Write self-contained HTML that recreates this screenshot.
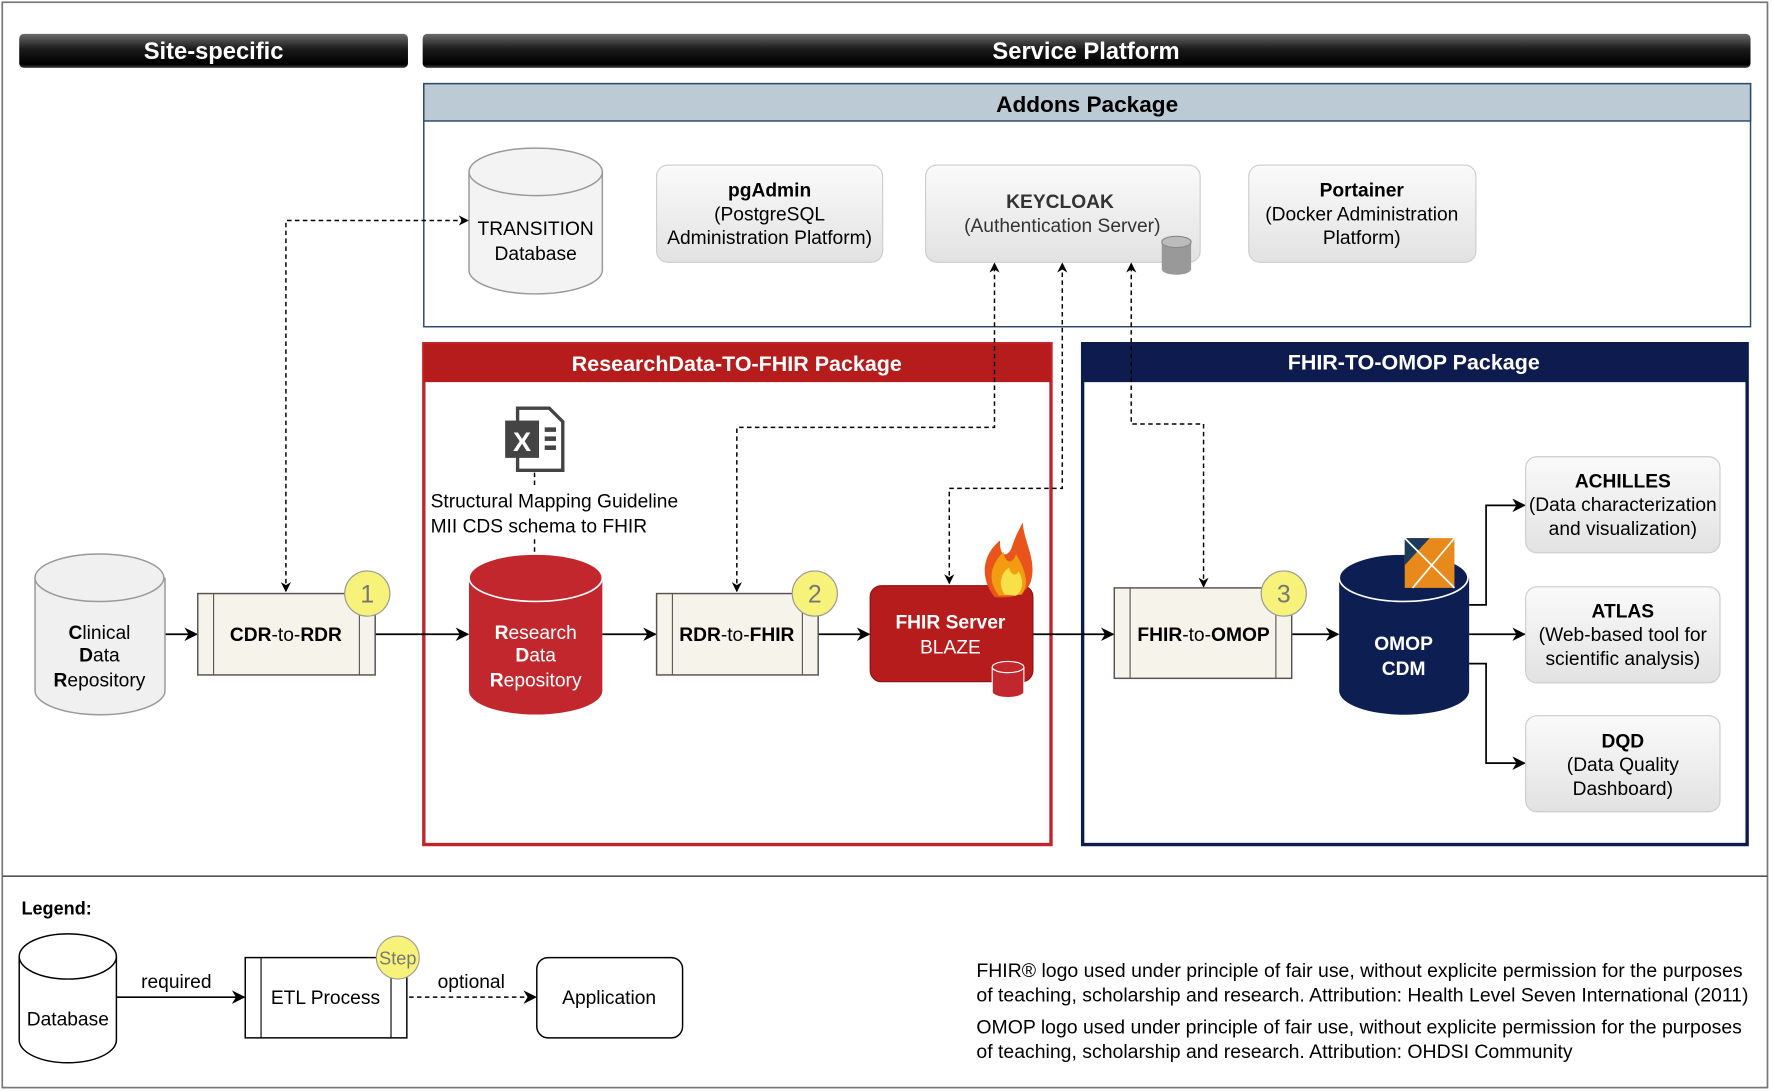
<!DOCTYPE html>
<html><head><meta charset="utf-8"><style>
html,body{margin:0;padding:0;background:#fff;}
svg{display:block;}
text{font-family:"Liberation Sans",sans-serif;}
</style></head><body>
<svg width="1772" height="1091" viewBox="0 0 1568 965" preserveAspectRatio="none" xmlns="http://www.w3.org/2000/svg">
<defs>
<linearGradient id="bar" x1="0" y1="0" x2="0" y2="1"><stop offset="0" stop-color="#6a6a6a"/><stop offset="0.45" stop-color="#1a1a1a"/><stop offset="0.9" stop-color="#000"/><stop offset="1" stop-color="#444"/></linearGradient>
<linearGradient id="gbox" x1="0" y1="0" x2="0" y2="1"><stop offset="0" stop-color="#fafafa"/><stop offset="1" stop-color="#e2e2e2"/></linearGradient>
<marker id="ah" viewBox="0 0 10 10" refX="9" refY="5" markerWidth="9" markerHeight="9" orient="auto-start-reverse" markerUnits="userSpaceOnUse"><path d="M0,0 L10,5 L0,10 L3,5 z" fill="#000"/></marker>
<marker id="ah2" viewBox="0 0 10 10" refX="9" refY="5" markerWidth="12" markerHeight="12" orient="auto-start-reverse" markerUnits="userSpaceOnUse"><path d="M0,0 L10,5 L0,10 L3,5 z" fill="#000"/></marker>
</defs>
<rect x="2" y="2" width="1562" height="960" fill="#fff" stroke="#777" stroke-width="1.5"/>
<line x1="2" y1="775" x2="1564" y2="775" stroke="#555" stroke-width="1.5"/>

<rect x="17" y="30" width="344" height="30" rx="4" fill="url(#bar)"/>
<text x="189" y="52" text-anchor="middle" font-size="21" font-weight="bold" fill="#fff">Site-specific</text>
<rect x="374" y="30" width="1175" height="30" rx="4" fill="url(#bar)"/>
<text x="961" y="52" text-anchor="middle" font-size="21" font-weight="bold" fill="#fff">Service Platform</text>

<rect x="375" y="74" width="1174" height="215" fill="#fff" stroke="#2e4a6b" stroke-width="1.3"/>
<rect x="375" y="74" width="1174" height="33" fill="#bccad6" stroke="#2e4a6b" stroke-width="1.3"/>
<text x="962" y="99" text-anchor="middle" font-size="20" font-weight="bold">Addons Package</text>

<path d="M415,152 L415,239 A59,21 0 0 0 533,239 L533,152" fill="#f3f3f3" stroke="#999" stroke-width="1.3"/>
<ellipse cx="474" cy="152" rx="59" ry="21" fill="#f3f3f3" stroke="#999" stroke-width="1.3"/>
<text x="474" y="208" text-anchor="middle" font-size="17">TRANSITION</text>
<text x="474" y="230" text-anchor="middle" font-size="17">Database</text>

<rect x="581" y="146" width="200" height="86" rx="10" fill="url(#gbox)" stroke="#ccc"/>
<text x="681" y="174" text-anchor="middle" font-size="17" font-weight="bold">pgAdmin</text>
<text x="681" y="195" text-anchor="middle" font-size="17">(PostgreSQL</text>
<text x="681" y="216" text-anchor="middle" font-size="17">Administration Platform)</text>

<rect x="819" y="146" width="243" height="86" rx="10" fill="url(#gbox)" stroke="#ccc"/>
<text x="938" y="184" text-anchor="middle" font-size="17" font-weight="bold" fill="#333">KEYCLOAK</text>
<text x="940" y="205" text-anchor="middle" font-size="17" fill="#333">(Authentication Server)</text>
<path d="M1028,214 L1028,238 A13,5 0 0 0 1054,238 L1054,214" fill="#999"/>
<ellipse cx="1041" cy="214" rx="13" ry="5" fill="#bbb" stroke="#888"/>

<rect x="1105" y="146" width="201" height="86" rx="10" fill="url(#gbox)" stroke="#ccc"/>
<text x="1205" y="174" text-anchor="middle" font-size="17" font-weight="bold">Portainer</text>
<text x="1205" y="195" text-anchor="middle" font-size="17">(Docker Administration</text>
<text x="1205" y="216" text-anchor="middle" font-size="17">Platform)</text>

<rect x="375" y="304" width="555" height="443" fill="none" stroke="#c0262d" stroke-width="3"/>
<rect x="375" y="304" width="555" height="34" fill="#b71c1c"/>
<text x="652" y="328" text-anchor="middle" font-size="19" font-weight="bold" fill="#fff">ResearchData-TO-FHIR Package</text>

<rect x="958" y="304" width="588" height="443" fill="none" stroke="#0d1b4f" stroke-width="3"/>
<rect x="958" y="304" width="588" height="34" fill="#0d1b4f"/>
<text x="1251" y="327" text-anchor="middle" font-size="19" font-weight="bold" fill="#fff">FHIR-TO-OMOP Package</text>

<g fill="none" stroke="#000" stroke-width="1.3" stroke-dasharray="4,3">
<path d="M253,523 L253,195 L414,195" marker-start="url(#ah)" marker-end="url(#ah)"/>
<path d="M652,523 L652,378 L880,378 L880,233" marker-start="url(#ah)" marker-end="url(#ah)"/>
<path d="M840,516 L840,432 L940,432 L940,233" marker-start="url(#ah)" marker-end="url(#ah)"/>
<path d="M1065,519 L1065,375 L1001,375 L1001,233" marker-start="url(#ah)" marker-end="url(#ah)"/>
<path d="M473,418 L473,432 M473,477 L473,490"/>
</g>

<g fill="none" stroke="#000" stroke-width="1.5">
<path d="M146,561 L174,561" marker-end="url(#ah2)"/>
<path d="M332,561 L414,561" marker-end="url(#ah2)"/>
<path d="M533,561 L580,561" marker-end="url(#ah2)"/>
<path d="M724,561 L769,561" marker-end="url(#ah2)"/>
<path d="M914,561 L985,561" marker-end="url(#ah2)"/>
<path d="M1143,561 L1184,561" marker-end="url(#ah2)"/>
<path d="M1300,561 L1349,561" marker-end="url(#ah2)"/>
<path d="M1300,535 L1315,535 L1315,447 L1349,447" marker-end="url(#ah2)"/>
<path d="M1300,587 L1315,587 L1315,675 L1349,675" marker-end="url(#ah2)"/>
</g>

<path d="M31,511 L31,611 A57,21 0 0 0 146,611 L146,511" fill="#f0f0f0" stroke="#999" stroke-width="1.3"/>
<ellipse cx="88" cy="511" rx="57" ry="21" fill="#f0f0f0" stroke="#999" stroke-width="1.3"/>
<text x="88" y="565" text-anchor="middle" font-size="17"><tspan font-weight="bold">C</tspan>linical</text>
<text x="88" y="585" text-anchor="middle" font-size="17"><tspan font-weight="bold">D</tspan>ata</text>
<text x="88" y="607" text-anchor="middle" font-size="17"><tspan font-weight="bold">R</tspan>epository</text>

<rect x="175" y="525" width="157" height="72" fill="#f6f4ea" stroke="#555" stroke-width="1.3"/>
<line x1="189" y1="525" x2="189" y2="597" stroke="#555"/><line x1="318" y1="525" x2="318" y2="597" stroke="#555"/>
<text x="253" y="567" text-anchor="middle" font-size="17"><tspan font-weight="bold">CDR</tspan>-to-<tspan font-weight="bold">RDR</tspan></text>
<circle cx="325" cy="525" r="20" fill="#f7f27a" stroke="#999"/>
<text x="325" y="533" text-anchor="middle" font-size="22" fill="#777">1</text>

<path d="M458,361 L486,361 L498,373 L498,416 L458,416 Z" fill="#fff" stroke="#444" stroke-width="3"/>
<rect x="447" y="372" width="30" height="33" fill="#444"/>
<text x="462" y="399" text-anchor="middle" font-size="24" font-weight="bold" fill="#fff">X</text>
<rect x="482" y="378" width="10" height="4" fill="#444"/><rect x="482" y="386" width="10" height="4" fill="#444"/><rect x="482" y="394" width="10" height="4" fill="#444"/>
<text x="381" y="449" font-size="17">Structural Mapping Guideline</text>
<text x="381" y="471" font-size="17">MII CDS schema to FHIR</text>

<path d="M415,511 L415,611 A59,21 0 0 0 533,611 L533,511" fill="#c1272d"/>
<ellipse cx="474" cy="511" rx="59" ry="21" fill="#c1272d" stroke="#fff" stroke-width="1.5"/>
<text x="474" y="565" text-anchor="middle" font-size="17" fill="#fff"><tspan font-weight="bold">R</tspan>esearch</text>
<text x="474" y="585" text-anchor="middle" font-size="17" fill="#fff"><tspan font-weight="bold">D</tspan>ata</text>
<text x="474" y="607" text-anchor="middle" font-size="17" fill="#fff"><tspan font-weight="bold">R</tspan>epository</text>

<rect x="581" y="525" width="143" height="72" fill="#f6f4ea" stroke="#555" stroke-width="1.3"/>
<line x1="595" y1="525" x2="595" y2="597" stroke="#555"/><line x1="710" y1="525" x2="710" y2="597" stroke="#555"/>
<text x="652" y="567" text-anchor="middle" font-size="17"><tspan font-weight="bold">RDR</tspan>-to-<tspan font-weight="bold">FHIR</tspan></text>
<circle cx="721" cy="525" r="20" fill="#f7f27a" stroke="#999"/>
<text x="721" y="533" text-anchor="middle" font-size="22" fill="#777">2</text>

<rect x="770" y="518" width="144" height="85" rx="10" fill="#b71c1c" stroke="#8a1010"/>
<text x="841" y="556" text-anchor="middle" font-size="17" font-weight="bold" fill="#fff">FHIR Server</text>
<text x="841" y="578" text-anchor="middle" font-size="17" fill="#fff">BLAZE</text>
<path d="M880,528 C866,510 870,490 885,478 C884,490 890,495 895,485 C898,475 902,468 905,462 C906,480 918,495 912,515 C908,525 896,530 880,528 Z" fill="#e8541c"/>
<path d="M884,527 C872,512 878,498 888,488 C889,498 896,500 899,490 C906,502 912,516 904,526 Z" fill="#f39c12"/>
<path d="M889,526 C882,515 887,506 893,502 C894,509 900,510 901,505 C906,512 906,522 899,527 Z" fill="#f9e04b"/>
<path d="M878,590 L878,612 A14,5 0 0 0 906,612 L906,590" fill="#c1272d" stroke="#fff"/>
<ellipse cx="892" cy="590" rx="14" ry="5" fill="#c1272d" stroke="#fff"/>

<rect x="986" y="520" width="157" height="80" fill="#f6f4ea" stroke="#555" stroke-width="1.3"/>
<line x1="1000" y1="520" x2="1000" y2="600" stroke="#555"/><line x1="1129" y1="520" x2="1129" y2="600" stroke="#555"/>
<text x="1065" y="567" text-anchor="middle" font-size="17"><tspan font-weight="bold">FHIR</tspan>-to-<tspan font-weight="bold">OMOP</tspan></text>
<circle cx="1136" cy="525" r="20" fill="#f7f27a" stroke="#999"/>
<text x="1136" y="533" text-anchor="middle" font-size="22" fill="#777">3</text>

<path d="M1185,511 L1185,611 A57,21 0 0 0 1300,611 L1300,511" fill="#0d1e52"/>
<ellipse cx="1242" cy="511" rx="57" ry="21" fill="#0d1e52" stroke="#fff" stroke-width="1.5"/>
<text x="1242" y="575" text-anchor="middle" font-size="17" font-weight="bold" fill="#fff">OMOP</text>
<text x="1242" y="597" text-anchor="middle" font-size="17" font-weight="bold" fill="#fff">CDM</text>
<rect x="1243" y="476" width="44" height="44" fill="#e8891c"/>
<path d="M1243,476 L1265,476 L1243,500 Z" fill="#1b3a5c"/>
<path d="M1243,476 L1287,520 M1287,476 L1250,520" stroke="#fff" stroke-width="1.5"/>

<rect x="1350" y="404" width="172" height="85" rx="10" fill="url(#gbox)" stroke="#ccc"/>
<text x="1436" y="431" text-anchor="middle" font-size="17" font-weight="bold">ACHILLES</text>
<text x="1436" y="452" text-anchor="middle" font-size="17">(Data characterization</text>
<text x="1436" y="473" text-anchor="middle" font-size="17">and visualization)</text>
<rect x="1350" y="519" width="172" height="85" rx="10" fill="url(#gbox)" stroke="#ccc"/>
<text x="1436" y="546" text-anchor="middle" font-size="17" font-weight="bold">ATLAS</text>
<text x="1436" y="567" text-anchor="middle" font-size="17">(Web-based tool for</text>
<text x="1436" y="588" text-anchor="middle" font-size="17">scientific analysis)</text>
<rect x="1350" y="633" width="172" height="85" rx="10" fill="url(#gbox)" stroke="#ccc"/>
<text x="1436" y="661" text-anchor="middle" font-size="17" font-weight="bold">DQD</text>
<text x="1436" y="682" text-anchor="middle" font-size="17">(Data Quality</text>
<text x="1436" y="703" text-anchor="middle" font-size="17">Dashboard)</text>

<text x="19" y="809" font-size="16" font-weight="bold">Legend:</text>
<path d="M17,846 L17,920 A43,20 0 0 0 103,920 L103,846" fill="#fff" stroke="#000" stroke-width="1.3"/>
<ellipse cx="60" cy="846" rx="43" ry="20" fill="#fff" stroke="#000" stroke-width="1.3"/>
<text x="60" y="907" text-anchor="middle" font-size="17">Database</text>
<path d="M103,882 L216,882" stroke="#000" stroke-width="1.5" marker-end="url(#ah2)"/>
<text x="156" y="874" text-anchor="middle" font-size="17">required</text>
<rect x="217" y="847" width="143" height="71" fill="#fff" stroke="#000" stroke-width="1.3"/>
<line x1="231" y1="847" x2="231" y2="918" stroke="#000"/><line x1="346" y1="847" x2="346" y2="918" stroke="#000"/>
<text x="288" y="888" text-anchor="middle" font-size="17">ETL Process</text>
<circle cx="352" cy="847" r="19" fill="#f7f27a" stroke="#999"/>
<text x="352" y="853" text-anchor="middle" font-size="16" fill="#777">Step</text>
<path d="M362,882 L474,882" stroke="#000" stroke-width="1.3" stroke-dasharray="4,3" marker-end="url(#ah2)"/>
<text x="417" y="874" text-anchor="middle" font-size="17">optional</text>
<rect x="475" y="847" width="129" height="71" rx="10" fill="#fff" stroke="#000" stroke-width="1.3"/>
<text x="539" y="888" text-anchor="middle" font-size="17">Application</text>

<g font-size="17.2">
<text x="864" y="864">FHIR® logo used under principle of fair use, without explicite permission for the purposes</text>
<text x="864" y="886">of teaching, scholarship and research. Attribution: Health Level Seven International (2011)</text>
<text x="864" y="914">OMOP logo used under principle of fair use, without explicite permission for the purposes</text>
<text x="864" y="936">of teaching, scholarship and research. Attribution: OHDSI Community</text>
</g>
</svg>
</body></html>
